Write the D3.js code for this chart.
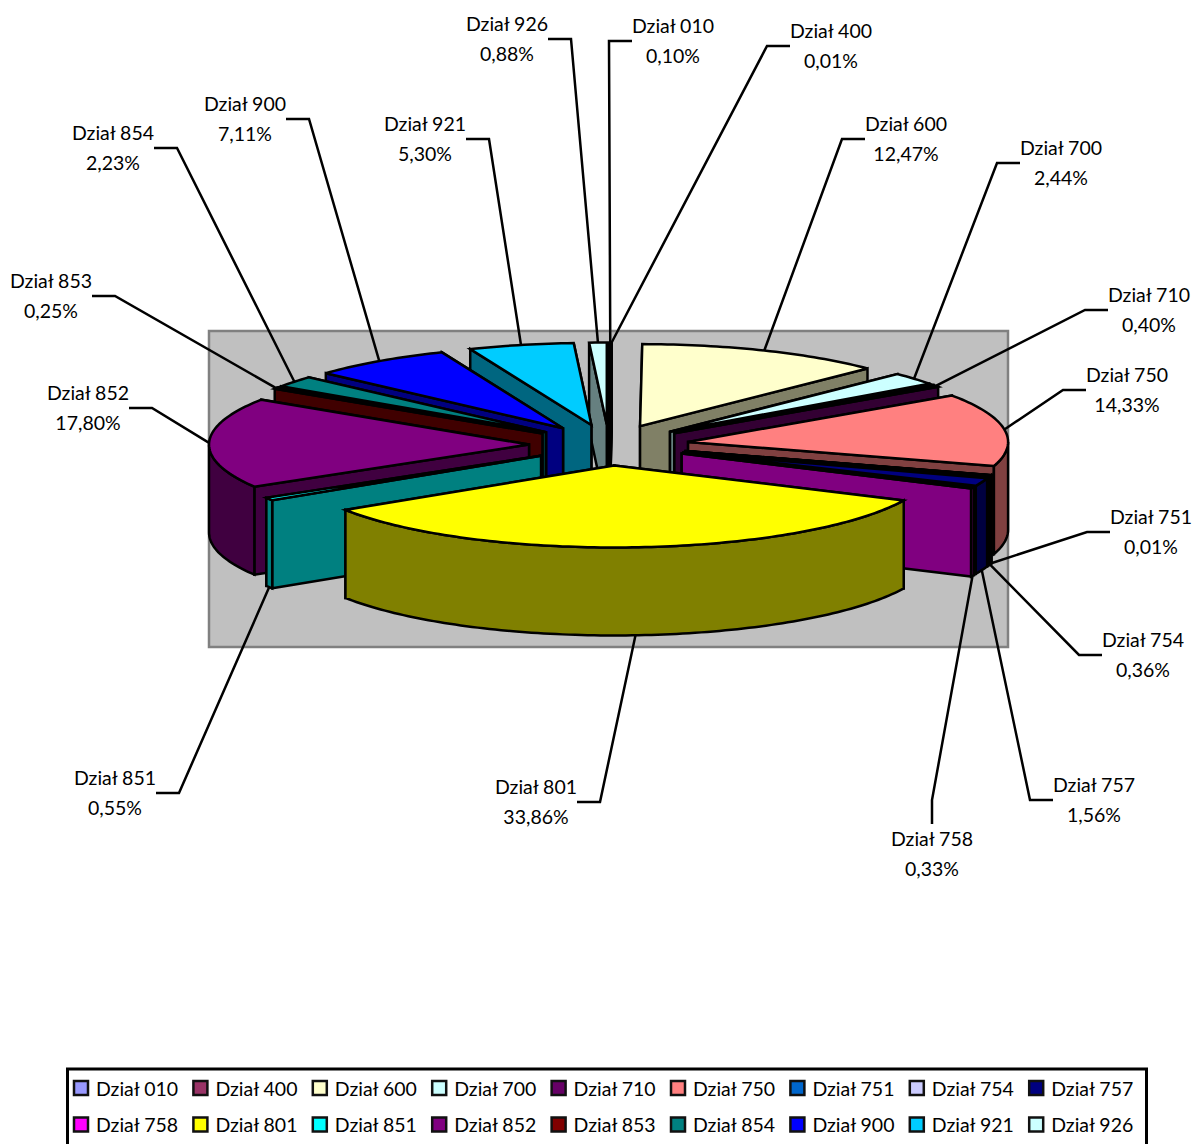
<!DOCTYPE html>
<html>
<head>
    <meta charset="utf-8">
    <title>Dzialy</title>
    <script src="https://d3js.org/d3.v7.min.js"></script>
    <style>
        html, body { margin:0; padding:0; background:#fff; overflow:hidden; }
        svg { display:block; }
        text { font-family:"Lato", sans-serif; font-size:19.5px; fill:#000; }
    </style>
</head>
<body>
<svg id="chart" width="1196" height="1144"></svg>
<script>
    // values
    const categories = ["Dział 010","Dział 400","Dział 600","Dział 700","Dział 710","Dział 750","Dział 751","Dział 754","Dział 757",
                        "Dział 758","Dział 801","Dział 851","Dział 852","Dział 853","Dział 854","Dział 900","Dział 921","Dział 926"];
    const shares = [0.10,0.01,12.47,2.44,0.40,14.33,0.01,0.36,1.56,0.33,33.86,0.55,17.80,0.25,2.23,7.11,5.30,0.88];
    const shareLabels = ["0,10%","0,01%","12,47%","2,44%","0,40%","14,33%","0,01%","0,36%","1,56%",
                         "0,33%","33,86%","0,55%","17,80%","0,25%","2,23%","7,11%","5,30%","0,88%"];
    const colors = ["#9999FF","#993366","#FFFFCC","#CCFFFF","#660066","#FF8080","#0066CC","#CCCCFF","#000080",
                    "#FF00FF","#FFFF00","#00FFFF","#800080","#800000","#008080","#0000FF","#00CCFF","#CCFFFF"];

    // where the data labels sit: centre x, y of first line, side the leader leaves from
    const labelX = [673,831,906,1061,1149,1127,1151,1143,1094,932,536,115,88,51,113,245,425,507];
    const labelY = [26,31,124,148,295,375,517,640,785,839,787,778,393,281,133,104,124,24];
    const labelSide = [-1,-1,-1,-1,-1,-1,-1,-1,-1,0,1,1,1,1,1,1,1,1];

    const canvas = d3.select("svg#chart");

    const cx = 609, cy = 445, rx = 320, ry = 82, depth = 88, explode = 0.25;
    const plot = {x:209, y:331, w:799, h:316};

    // unit circle -> screen
    const xScale = d3.scaleLinear().domain([-1,1]).range([cx-rx, cx+rx]);
    const yScale = d3.scaleLinear().domain([-1,1]).range([cy-ry, cy+ry]);

    // plot area
    canvas.append("rect")
        .attr("x",plot.x).attr("y",plot.y).attr("width",plot.w).attr("height",plot.h)
        .attr("fill","#C0C0C0").attr("stroke","#808080").attr("stroke-width",2.5);

    const pie = d3.pie().sort(null).value(d=>d.share).startAngle(0).endAngle(2*Math.PI);
    const slices = pie(categories.map((c,i)=>({name:c, share:shares[i], color:colors[i], i:i})));

    slices.forEach(s=>{
        s.mid = (s.startAngle+s.endAngle)/2;
        // exploded apex of the slice
        s.ax = xScale(explode*Math.sin(s.mid));
        s.ay = yScale(-explode*Math.cos(s.mid));
    });

    // point on the rim of a slice
    function rim(s,a,drop){
        return [s.ax + rx*Math.sin(a), s.ay - ry*Math.cos(a) + (drop||0)];
    }
    function arcPoints(a0,a1,drop,s){
        const n = Math.max(2,Math.ceil((a1-a0)/0.02));
        return d3.range(n+1).map(k=>rim(s,a0+(a1-a0)*k/n,drop));
    }

    const line = d3.line();
    const order = slices.slice().sort((a,b)=>
        Math.min(a.mid,2*Math.PI-a.mid) - Math.min(b.mid,2*Math.PI-b.mid));

    const pieG = canvas.append("g")
        .attr("stroke","#000").attr("stroke-width",2.5).attr("stroke-linejoin","miter");

    order.forEach(s=>{
        const side = d3.color(s.data.color).darker(0);
        side.r/=2; side.g/=2; side.b/=2;
        const g = pieG.append("g");

        // radial walls, the one further back goes first
        const walls = [s.startAngle,s.endAngle].sort((a,b)=>Math.cos(b)-Math.cos(a));
        walls.forEach(a=>{
            const p = rim(s,a);
            g.append("path")
                .attr("d",line([[s.ax,s.ay],p,[p[0],p[1]+depth],[s.ax,s.ay+depth]])+"Z")
                .attr("fill",side);
        });

        // curved wall, only front half of the rim shows
        const a0 = Math.max(s.startAngle,Math.PI/2), a1 = Math.min(s.endAngle,3*Math.PI/2);
        if(a1>a0){
            const pts = arcPoints(a0,a1,0,s).concat(arcPoints(a0,a1,depth,s).reverse());
            g.append("path").attr("d",line(pts)+"Z").attr("fill",side);
        }

        // top
        const topPts = [[s.ax,s.ay]].concat(arcPoints(s.startAngle,s.endAngle,0,s));
        g.append("path").attr("d",line(topPts)+"Z").attr("fill",s.data.color);
    });

    // leader lines and labels
    const labelG = canvas.append("g");
    slices.forEach((s,i)=>{
        const front = s.mid>Math.PI/2 && s.mid<3*Math.PI/2;
        const end = rim(s,s.mid,front?depth:0);
        const stubY = labelY[i]+15;
        let pts;
        if(labelSide[i]===0){
            pts = [[labelX[i],labelY[i]-15],[labelX[i],labelY[i]-39],end];
        } else {
            const sx = labelX[i]+labelSide[i]*41;
            pts = [[sx,stubY],[sx+labelSide[i]*23,stubY],end];
        }
        labelG.append("path").attr("d",line(pts)).attr("fill","none")
            .attr("stroke","#000").attr("stroke-width",2.5);

        labelG.append("text").attr("x",labelX[i]).attr("y",labelY[i]).attr("dy","0.35em")
            .attr("text-anchor","middle").text(s.data.name);
        labelG.append("text").attr("x",labelX[i]).attr("y",labelY[i]+30).attr("dy","0.35em")
            .attr("text-anchor","middle").text(shareLabels[i]);
    });

    // legend
    const perRow = 9;
    const legendX = d3.scaleLinear().domain([0,perRow]).range([73,73+119.4*perRow]);
    const legendY = d3.scaleLinear().domain([0,1]).range([1080,1116.5]);

    canvas.append("rect").attr("x",67.5).attr("y",1069).attr("width",1079).attr("height",90)
        .attr("fill","#fff").attr("stroke","#000").attr("stroke-width",3);

    const items = canvas.selectAll("g.item").data(categories)
        .join("g").attr("class","item")
        .attr("transform",(d,i)=>`translate(${legendX(i%perRow)},${legendY(Math.floor(i/perRow))})`);
    items.append("rect").attr("x",1).attr("y",1).attr("width",14).attr("height",14)
        .attr("fill",(d,i)=>colors[i]).attr("stroke","#111").attr("stroke-width",2.5);
    items.append("text").attr("x",23).attr("y",9).attr("dy","0.35em").text(d=>d);
</script>
</body>
</html>
